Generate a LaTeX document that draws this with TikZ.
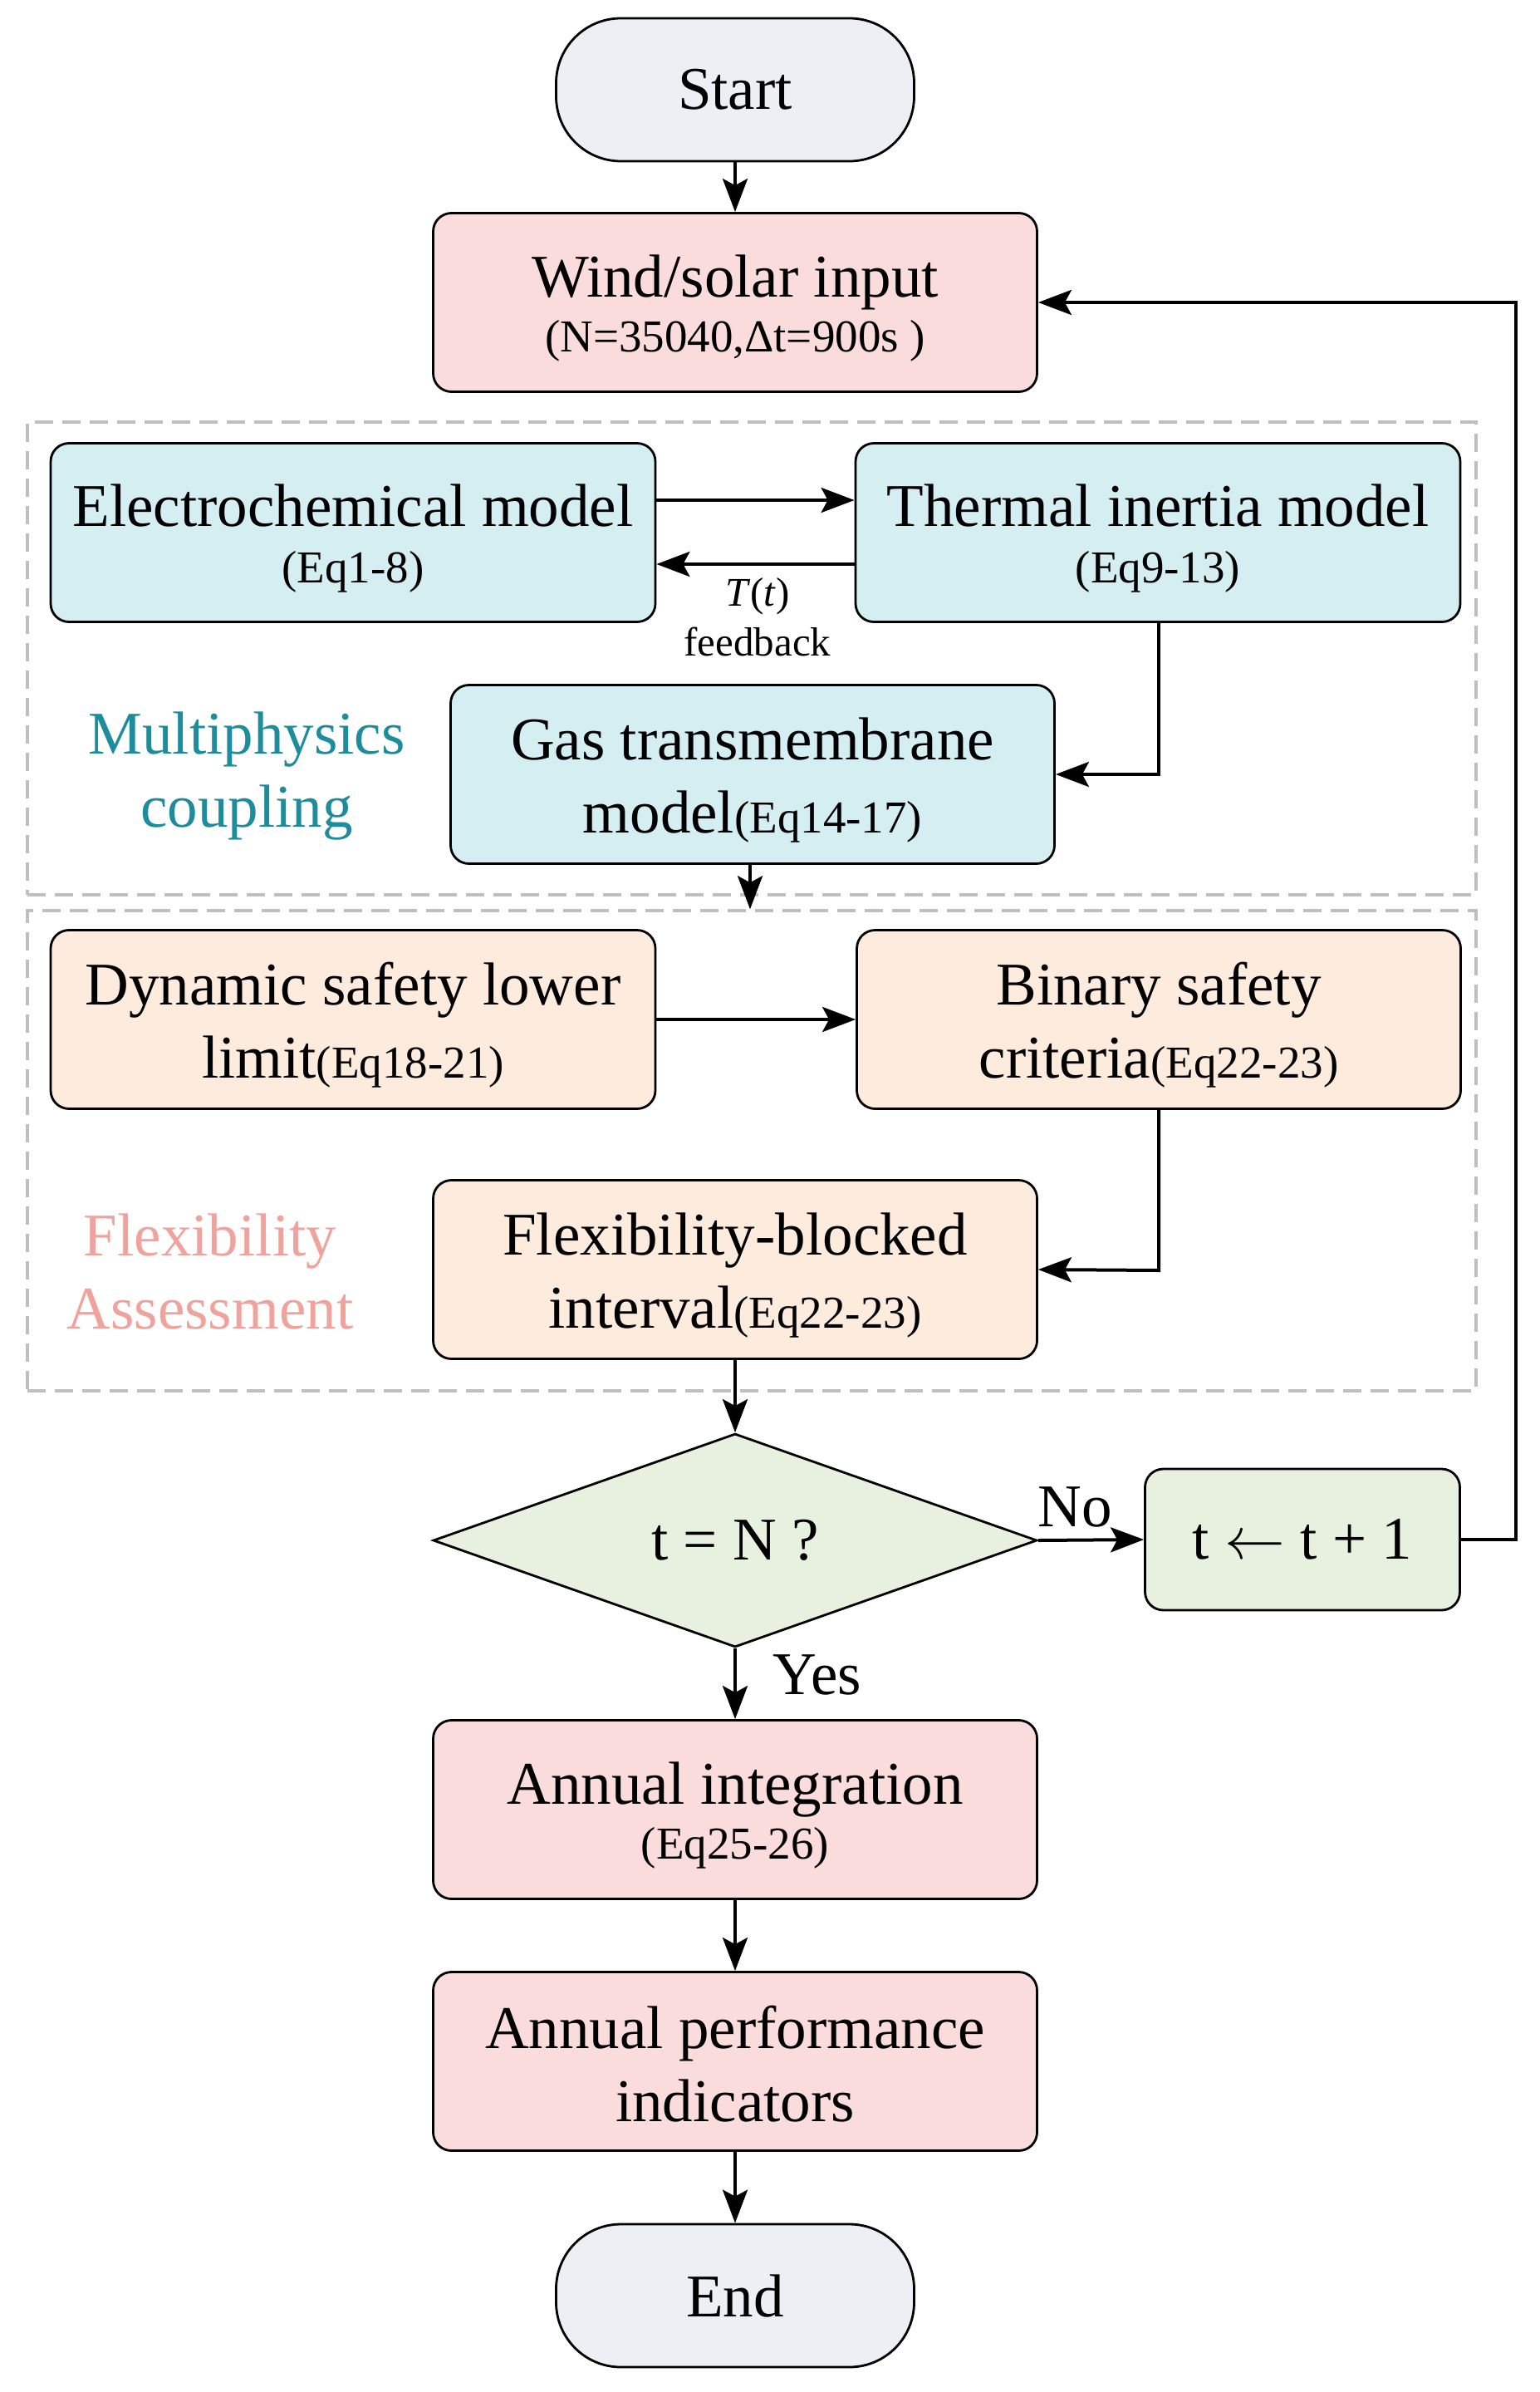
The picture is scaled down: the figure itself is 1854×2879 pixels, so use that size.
\documentclass[tikz,border=0pt]{standalone}
\usepackage{fontspec}
\usepackage{unicode-math}
\setmainfont{Liberation Serif}
\usetikzlibrary{shapes.geometric,arrows.meta}
\definecolor{cterm}{HTML}{EEEFF4}
\definecolor{cpink}{HTML}{F9DCDB}
\definecolor{cblue}{HTML}{D5EEF2}
\definecolor{cpeach}{HTML}{FDEBDD}
\definecolor{cgreen}{HTML}{E8F1DF}
\definecolor{cdash}{HTML}{BFBFBF}
\definecolor{cteal}{HTML}{1D8C9C}
\definecolor{csalmon}{HTML}{F0A39C}
\newcommand{\mainf}{\fontsize{73}{88}\selectfont}
\newcommand{\subf}{\fontsize{55}{64}\selectfont}
\newcommand{\smallf}{\fontsize{49}{58}\selectfont}
\newcommand{\tstrut}{\rule{0pt}{65pt}}
\tikzset{
  proc/.style={draw=black, line width=2.8pt, rounded corners=22pt, minimum width=727pt, minimum height=215pt, align=center, inner sep=0pt, font=\mainf},
  term/.style={draw=black, line width=2.8pt, rounded corners=78pt, fill=cterm, minimum width=431pt, minimum height=172pt, inner sep=0pt, font=\mainf},
  group/.style={draw=cdash, line width=3.5pt, dash pattern=on 22pt off 11pt, inner sep=0pt},
  arr/.style={-{Stealth[length=40pt,width=30pt,inset=8pt]}, line width=4pt},
  lbl/.style={font=\mainf, inner sep=0pt}
}
\begin{document}
\begin{tikzpicture}[x=1pt,y=-1pt]
\useasboundingbox (0,0) rectangle (1854,2879);
% groups
\node[group, minimum width=1744pt, minimum height=569pt] (g1) at (905,792.5) {};
\node[group, minimum width=1744pt, minimum height=578pt] (g2) at (905,1385) {};
% nodes
\node[term] (start) at (885,108) {Start};
\node[proc, fill=cpink] (wind) at (885,364) {\tstrut Wind/solar input\\[-22pt]{\subf (N=35040,Δt=900s )}};
\node[proc, fill=cblue, minimum width=728pt] (elec) at (425,641) {\tstrut Electrochemical model\\[-20pt]{\subf (Eq1-8)}};
\node[proc, fill=cblue, minimum width=728pt] (therm) at (1394,641) {\tstrut Thermal inertia model\\[-20pt]{\subf (Eq9-13)}};
\node[proc, fill=cblue] (gas) at (906,932) {\tstrut Gas transmembrane\\model{\subf (Eq14-17)}};
\node[proc, fill=cpeach, minimum width=728pt] (dyn) at (425,1227) {\tstrut Dynamic safety lower\\limit{\subf (Eq18-21)}};
\node[proc, fill=cpeach] (bin) at (1395,1227) {\tstrut Binary safety\\criteria{\subf (Eq22-23)}};
\node[proc, fill=cpeach] (flex) at (885,1528) {\tstrut Flexibility-blocked\\interval{\subf (Eq22-23)}};
\node[draw=black, line width=2.8pt, fill=cgreen, shape=diamond, minimum width=727pt, minimum height=257pt, inner sep=0pt, font=\mainf] (dec) at (885,1854) {t = N ?};
\node[proc, fill=cgreen, minimum width=379pt, minimum height=170pt] (inc) at (1568,1853) {t $\leftarrow$ t + 1};
\node[proc, fill=cpink] (integ) at (885,2178) {\tstrut Annual integration\\[-22pt]{\subf (Eq25-26)}};
\node[proc, fill=cpink] (perf) at (885,2481) {\rule{0pt}{58pt}Annual performance\\indicators};
\node[term] (end) at (885,2763) {End};
% labels
\node[lbl, text=cteal, align=center] (mp) at (297,934) {Multiphysics\\coupling};
\node[lbl, text=csalmon, align=center] (fa) at (253,1531) {Flexibility\\Assessment};
\node[inner sep=0pt, font=\smallf, align=center] (fb) at (912,743) {\textit{T}(\textit{t})\\[2pt]feedback};
\node[lbl] (no) at (1294,1814) {No};
\node[lbl] (yes) at (984,2016) {Yes};
% connectors
\coordinate (loopA) at (1825,1853);
\coordinate (loopB) at (1825,364);
\coordinate (thA) at (1395,932);
\coordinate (biA) at (1395,1529);
\draw[arr] (start) -- (wind);
\draw[arr] ([yshift=39pt]elec.east) -- ([yshift=39pt]therm.west);
\draw[arr] ([yshift=-38pt]therm.west) -- ([yshift=-38pt]elec.east);
\draw[arr] (therm.south -| thA) -- (thA) -- (gas.east);
\draw[arr] ([xshift=-3pt]gas.south) -- ([xshift=-3pt]gas.south |- g2.north);
\draw[arr] (dyn.east) -- (bin.west);
\draw[arr] (bin.south -| biA) -- (biA) -- (flex.east);
\draw[arr] (flex.south) -- (dec.north);
\draw[arr] (dec.east) -- (inc.west);
\draw[arr] (inc.east) -- (loopA) -- (loopB) -- (wind.east);
\draw[arr] (dec.south) -- (integ.north);
\draw[arr] (integ) -- (perf);
\draw[arr] (perf) -- (end);
\end{tikzpicture}
\end{document}
